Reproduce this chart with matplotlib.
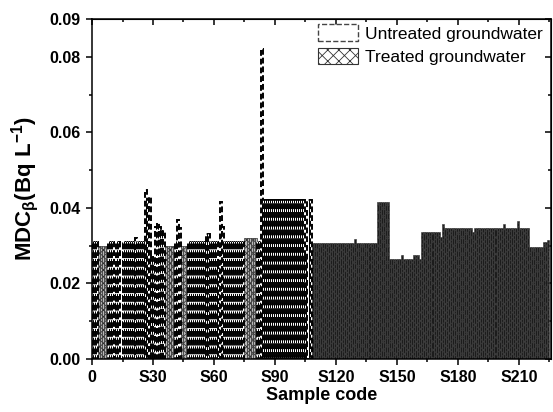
import matplotlib
matplotlib.use('Agg')
from matplotlib import pyplot as plt
from matplotlib.patches import Patch

plt.rcParams['font.family'] = ['Liberation Sans', 'DejaVu Sans']
plt.rcParams['mathtext.fontset'] = 'custom'
plt.rcParams['mathtext.rm'] = 'Liberation Sans'
plt.rcParams['mathtext.bf'] = 'Liberation Sans:bold'
plt.rcParams['mathtext.default'] = 'bf'
plt.rcParams['hatch.linewidth'] = 0.6

# MDC beta (Bq/L) per sample, S1 ... S225
mdc = [
    0.031, 0.031, 0.031, 0.030, 0.030, 0.030, 0.030, 0.030, 0.031, 0.031,   # 1-10
    0.031, 0.023, 0.031, 0.031, 0.031, 0.031, 0.031, 0.031, 0.031, 0.031,   # 11-20
    0.031, 0.032, 0.031, 0.031, 0.031, 0.031, 0.0447, 0.042, 0.0428, 0.027,  # 21-30
    0.027, 0.035, 0.036, 0.035, 0.034, 0.034, 0.030, 0.030, 0.030, 0.030,   # 31-40
    0.030, 0.031, 0.0368, 0.0347, 0.030, 0.030, 0.030, 0.031, 0.031, 0.031,  # 41-50
    0.031, 0.031, 0.031, 0.031, 0.031, 0.031, 0.033, 0.033, 0.031, 0.031,   # 51-60
    0.031, 0.031, 0.025, 0.0416, 0.035, 0.031, 0.031, 0.031, 0.031, 0.031,  # 61-70
    0.031, 0.031, 0.031, 0.031, 0.031, 0.032, 0.032, 0.032, 0.032, 0.032,   # 71-80
    0.032, 0.031, 0.031, 0.082, 0.042, 0.042, 0.042, 0.042, 0.042, 0.042,   # 81-90
    0.042, 0.042, 0.042, 0.042, 0.042, 0.042, 0.042, 0.042, 0.042, 0.042,   # 91-100
    0.042, 0.042, 0.042, 0.042, 0.042, 0.027, 0.042, 0.042, 0.0306, 0.0306,  # 101-110
    0.0306, 0.0306, 0.0306, 0.0306, 0.0306, 0.0306, 0.0306, 0.0306, 0.0306, 0.0306,  # 111-120
    0.0306, 0.0306, 0.0306, 0.0306, 0.0306, 0.0306, 0.0306, 0.0306, 0.0306, 0.0317,  # 121-130
    0.0306, 0.0306, 0.0306, 0.0306, 0.0306, 0.0306, 0.0306, 0.0306, 0.0306, 0.0306,  # 131-140
    0.0416, 0.0416, 0.0416, 0.0416, 0.0416, 0.0416, 0.0265, 0.0265, 0.0265, 0.0265,  # 141-150
    0.0265, 0.0265, 0.0275, 0.0265, 0.0265, 0.0265, 0.0265, 0.0265, 0.0275, 0.0275,  # 151-160
    0.0275, 0.0265, 0.0335, 0.0335, 0.0335, 0.0335, 0.0335, 0.0335, 0.0335, 0.0335,  # 161-170
    0.0335, 0.0324, 0.0357, 0.0346, 0.0346, 0.0346, 0.0346, 0.0346, 0.0346, 0.0346,  # 171-180
    0.0346, 0.0346, 0.0346, 0.0346, 0.0346, 0.0346, 0.0346, 0.0337, 0.0346, 0.0346,  # 181-190
    0.0346, 0.0346, 0.0346, 0.0346, 0.0346, 0.0346, 0.0346, 0.0346, 0.0346, 0.0346,  # 191-200
    0.0346, 0.0346, 0.0357, 0.0346, 0.0346, 0.0346, 0.0346, 0.0346, 0.0346, 0.0366,  # 201-210
    0.0346, 0.0346, 0.0346, 0.0346, 0.0346, 0.0296, 0.0296, 0.0296, 0.0296, 0.0296,  # 211-220
    0.0296, 0.0296, 0.031, 0.031, 0.0315,                                    # 221-225
]
sample_no = list(range(1, len(mdc) + 1))

# treated samples among the first block; everything from S109 on is treated
treated_early = [4, 5, 6, 7, 8, 37, 38, 39, 40, 41, 45, 46, 47,
                 76, 77, 78, 79, 80, 81]
first_treated = 109

x_ticks = [0, 30, 60, 90, 120, 150, 180, 210]
x_labels = ['0', 'S30', 'S60', 'S90', 'S120', 'S150', 'S180', 'S210']
x_minor = [15, 45, 75, 105, 135, 165, 195, 225]
y_ticks = [0.00, 0.02, 0.04, 0.06, 0.08, 0.09]
y_labels = ['0.00', '0.02', '0.04', '0.06', '0.08', '0.09']
y_minor = [0.01, 0.03, 0.05, 0.07]

ux, uy, ex, ey, tx, ty = [], [], [], [], [], []
for s, v in zip(sample_no, mdc):
    if s >= first_treated:
        tx.append(s - 1)
        ty.append(v)
    elif s in treated_early:
        ex.append(s - 1)
        ey.append(v)
    else:
        ux.append(s - 1)
        uy.append(v)

fig = plt.figure(figsize=(5.53, 4.12), dpi=100)
ax = fig.add_axes([0.1664, 0.1286, 0.83, 0.825])

# treated (crosshatch) -- the long block renders almost solid in the original
ax.bar(tx, ty, width=1, align='edge', facecolor='#1c1c1c', edgecolor='#3c3c3c',
       hatch='xxxx', linewidth=0.4)
ax.bar(ex, ey, width=1, align='edge', facecolor='#bbbbbb', edgecolor='#333333',
       hatch='xxxxx', linewidth=0.5)
# untreated (dashed outline)
ax.bar(ux, uy, width=1, align='edge', facecolor='white', edgecolor='black',
       linewidth=1.4, linestyle=(0, (3.0, 1.5)))

ax.set_xlim(0, 225.8)
ax.set_ylim(0, 0.09)
ax.set_xticks(x_ticks)
ax.set_xticklabels(x_labels)
ax.set_xticks(x_minor, minor=True)
ax.set_yticks(y_ticks)
ax.set_yticklabels(y_labels)
ax.set_yticks(y_minor, minor=True)

ax.tick_params(which='both', direction='out', width=1.1,
               labelsize=11.5, top=False, right=False)
ax.tick_params(which='major', length=4.5)
ax.tick_params(which='minor', length=2.5)
for lab in ax.get_xticklabels() + ax.get_yticklabels():
    lab.set_fontweight('bold')

# mirrored ticks pointing inward on top and right
sec_x = ax.secondary_xaxis('top')
sec_x.set_xticks(x_ticks)
sec_x.set_xticks(x_minor, minor=True)
sec_x.tick_params(which='both', direction='in', labeltop=False, width=1.1)
sec_x.tick_params(which='major', length=4.5)
sec_x.tick_params(which='minor', length=2.5)
sec_y = ax.secondary_yaxis('right')
sec_y.set_yticks(y_ticks)
sec_y.set_yticks(y_minor, minor=True)
sec_y.tick_params(which='both', direction='in', labelright=False, width=1.1)
sec_y.tick_params(which='major', length=4.5)
sec_y.tick_params(which='minor', length=2.5)

for sp in ax.spines.values():
    sp.set_linewidth(1.1)

ax.set_xlabel('Sample code', fontsize=13, fontweight='bold', labelpad=1)
ax.set_ylabel(r'MDC$_\beta$(Bq L$^{-1}$)', fontsize=16, fontweight='bold',
              labelpad=6)

handles = [Patch(facecolor='white', edgecolor='#444444', linestyle='--',
                 linewidth=1.0, label='Untreated groundwater'),
           Patch(facecolor='white', edgecolor='#333333', hatch='xxx',
                 linewidth=0.8, label='Treated groundwater')]
ax.legend(handles=handles, loc='upper right', bbox_to_anchor=(1.0, 1.01),
          frameon=False, fontsize=12.5, handlelength=2.3, handleheight=1.1,
          handletextpad=0.4, labelspacing=0.35, borderaxespad=0.1)

fig.savefig('out.png', dpi=100)
